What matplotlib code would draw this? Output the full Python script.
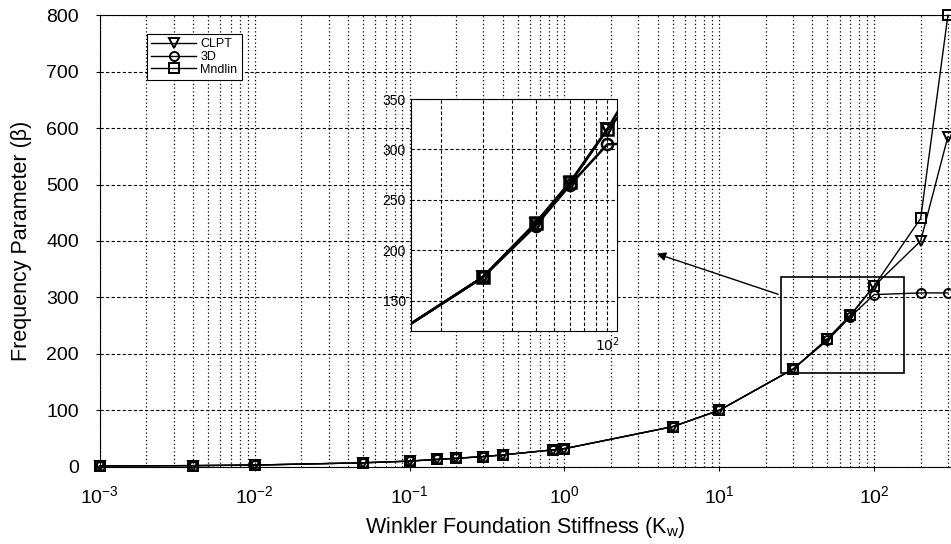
import numpy as np
import matplotlib.pyplot as plt
from matplotlib.patches import Rectangle
from matplotlib.ticker import LogLocator, NullFormatter

plt.rcParams['font.family'] = ['Liberation Sans', 'DejaVu Sans']

kw = [0.001, 0.004, 0.01, 0.05, 0.1, 0.15, 0.2, 0.3, 0.4, 0.85, 1, 5, 10, 30, 50, 70, 100, 200, 300]
clpt = [1.5, 2, 3, 7, 10, 13, 15, 18, 21, 30, 32, 71, 100, 173, 226, 267, 320, 400, 585]
solid3d = [1.5, 2, 3, 7, 10, 13, 15, 18, 21, 30, 32, 71, 100, 173, 224, 265, 305, 308, 308]
mindlin = [1.5, 2, 3, 7, 10, 13, 15, 18, 21, 30, 32, 71, 100, 173, 227, 268, 320, 440, 800]

series = [('CLPT', clpt, 'v'), ('3D', solid3d, 'o'), ('Mndlin', mindlin, 's')]

fig = plt.figure(figsize=(9.51, 5.44), dpi=100)
ax = fig.add_axes([0.105, 0.142, 0.895, 0.830])

for name, vals, m in series:
    ax.plot(kw, vals, color='black', lw=1.0, marker=m, ms=6.5, mfc='none',
            mec='black', mew=1.4, label=name, clip_on=False, zorder=3)

ax.set_xscale('log')
ax.set_xlim(1e-3, 10 ** 2.497)
ax.set_ylim(0, 800)
ax.set_yticks(range(0, 801, 100))
ax.xaxis.set_minor_locator(LogLocator(base=10, subs=np.arange(2, 10)))
ax.xaxis.set_minor_formatter(NullFormatter())
ax.grid(True, which='major', axis='y', color='black', ls=(0, (3, 2)), lw=0.8)
ax.grid(True, which='both', axis='x', color='black', ls=(0, (1, 2)), lw=0.9)
ax.tick_params(labelsize=14, length=3)
ax.tick_params(axis='x', pad=10)
ax.tick_params(axis='y', pad=12)
ax.tick_params(which='minor', length=0)
ax.spines['right'].set_visible(False)
ax.set_xlabel('Winkler Foundation Stiffness (K$_\\mathregular{w}$)', fontsize=15.5, labelpad=6)
ax.set_ylabel('Frequency Parameter (β)', fontsize=15.5, labelpad=10)

leg = ax.legend(loc='upper left', bbox_to_anchor=(0.048, 0.972), fontsize=9,
                frameon=True, fancybox=False, edgecolor='black', framealpha=1,
                handlelength=3.6, borderpad=0.35, labelspacing=0.05, handletextpad=0.3)
leg.get_frame().set_linewidth(0.8)

# zoom box and arrow
ax.add_patch(Rectangle((25, 166), 130, 170, fill=False, ec='black', lw=1.2, zorder=4))
ax.annotate('', xy=(3.8, 379), xytext=(25, 304),
            arrowprops=dict(arrowstyle='-|>', color='black', lw=1.0, mutation_scale=13))

# inset
ins = fig.add_axes([0.432, 0.392, 0.217, 0.426])
for name, vals, m in series:
    ins.plot(kw, vals, color='black', lw=1.8, marker=m, ms=8, mfc='none',
             mec='black', mew=1.8)
ins.set_xscale('log')
ins.set_xlim(15, 110)
ins.set_ylim(120, 350)
ins.set_yticks([150, 200, 250, 300, 350])
ins.set_xticks([100])
ins.set_xticklabels(['$10^2$'])
ins.xaxis.set_minor_locator(LogLocator(base=10, subs=np.arange(2, 10)))
ins.xaxis.set_minor_formatter(NullFormatter())
ins.grid(True, which='both', color='black', ls=(0, (3, 2)), lw=0.8)
ins.tick_params(labelsize=10, length=0)
ins.tick_params(which='minor', length=0)

fig.savefig('out.png', dpi=100)
